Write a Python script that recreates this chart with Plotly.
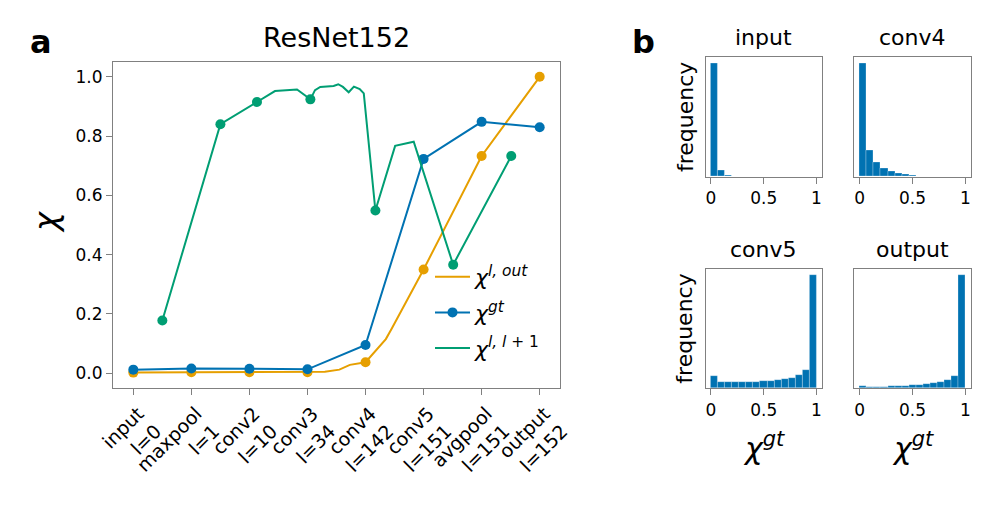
import numpy as np
import plotly.graph_objects as go


class Colors:
    ORANGE = '#E69F00'
    BLUE = '#0072B2'
    GREEN = '#009E73'
    AXIS = '#808080'
    TEXT = '#000000'


W, H = 997, 515
PAGE_MARGIN = 8  # default body margin of the html page

# panel a: layer positions on the x axis (tick index)
tick_pos = [0, 1, 2, 3, 4, 5, 6, 7]
tick_labels = ['input<br>l=0', 'maxpool<br>l=1', 'conv2<br>l=10', 'conv3<br>l=34',
               'conv4<br>l=142', 'conv5<br>l=151', 'avgpool<br>l=151', 'output<br>l=152']

chi_out_x = [0, 1, 2, 3, 3.3, 3.55, 3.62, 3.73, 4, 4.2, 4.35, 4.45, 5, 6, 7]
chi_out_y = [0.002, 0.003, 0.003, 0.003, 0.005, 0.012, 0.019, 0.028, 0.037,
             0.08, 0.115, 0.15, 0.35, 0.733, 1.0]

chi_gt_y = [0.012, 0.016, 0.015, 0.013, 0.095, 0.723, 0.848, 0.830]

chi_next_x = [0.5, 1.5, 2.13, 2.44, 2.82, 3.05, 3.13, 3.22, 3.45, 3.53, 3.61, 3.71,
              3.80, 3.90, 3.97, 4.17, 4.51, 4.83, 5.51, 6.51]
chi_next_y = [0.178, 0.84, 0.915, 0.952, 0.957, 0.924, 0.955, 0.966, 0.969, 0.975,
              0.966, 0.948, 0.967, 0.959, 0.944, 0.549, 0.767, 0.781, 0.366, 0.733]
chi_next_marked = [0, 1, 2, 5, 15, 18, 19]

# panel b: normalised histogram heights, 15 bins on [0, 1]
hist_names = ['input', 'conv4', 'conv5', 'output']
hist_input = [1.0, 0.059, 0.008, 0.003, 0, 0, 0, 0, 0, 0, 0, 0, 0, 0, 0]
hist_conv4 = [1.0, 0.229, 0.124, 0.074, 0.047, 0.029, 0.021, 0.012, 0.007,
              0.004, 0.003, 0.003, 0.003, 0.003, 0.003]
hist_conv5 = [0.104, 0.053, 0.053, 0.052, 0.053, 0.055, 0.058, 0.062, 0.068,
              0.074, 0.08, 0.095, 0.118, 0.157, 1.0]
hist_output = [0.024, 0.015, 0.015, 0.015, 0.016, 0.018, 0.021, 0.027, 0.033,
               0.040, 0.047, 0.058, 0.075, 0.107, 1.0]

FIG_W = W - 2 * PAGE_MARGIN
FIG_H = H - 2 * PAGE_MARGIN


def px(x):
    return (x - PAGE_MARGIN) / FIG_W


def py(y):
    return 1 - (y - PAGE_MARGIN) / FIG_H


def note(text, x, y, size, **kw):
    return dict(text=text, x=px(x), y=py(y), xref='paper', yref='paper',
                xanchor=kw.pop('xanchor', 'center'), yanchor=kw.pop('yanchor', 'middle'),
                showarrow=False, font=dict(size=size, color=Colors.TEXT), **kw)


def main():
    figure = go.Figure()

    chi_out_marked = [i for i, x in enumerate(chi_out_x) if x in tick_pos]
    line_w = 2

    figure.add_trace(go.Scatter(
        x=chi_out_x, y=chi_out_y, mode='lines', name='<i>χ</i><sup><i>l, out</i></sup>',
        line=dict(width=line_w, color=Colors.ORANGE), legendgroup='out'))
    figure.add_trace(go.Scatter(
        x=[chi_out_x[i] for i in chi_out_marked], y=[chi_out_y[i] for i in chi_out_marked],
        mode='markers', marker=dict(size=10, color=Colors.ORANGE), showlegend=False))
    figure.add_trace(go.Scatter(
        x=tick_pos, y=chi_gt_y, mode='lines+markers', name='<i>χ</i><sup><i>gt</i></sup>',
        line=dict(width=line_w, color=Colors.BLUE), marker=dict(size=10, color=Colors.BLUE),
        legendgroup='gt'))
    figure.add_trace(go.Scatter(
        x=chi_next_x, y=chi_next_y, mode='lines', name='<i>χ</i><sup><i>l, l</i> + 1</sup>',
        line=dict(width=line_w, color=Colors.GREEN), legendgroup='next'))
    figure.add_trace(go.Scatter(
        x=[chi_next_x[i] for i in chi_next_marked], y=[chi_next_y[i] for i in chi_next_marked],
        mode='markers', marker=dict(size=10, color=Colors.GREEN), showlegend=False))

    edges = np.linspace(0, 1, len(hist_conv4) + 1)
    centers = (edges[:-1] + edges[1:]) / 2
    for k, heights in enumerate([hist_input, hist_conv4, hist_conv5, hist_output]):
        figure.add_trace(go.Bar(
            x=centers, y=heights, width=edges[1] - edges[0],
            marker=dict(color=Colors.BLUE, line=dict(color='rgba(255,255,255,0.45)', width=0.6)),
            showlegend=False, xaxis=f'x{k + 2}', yaxis=f'y{k + 2}'))

    tickfont = dict(size=17, color=Colors.TEXT)
    frame = dict(showline=True, linecolor=Colors.AXIS, linewidth=1.2, mirror=True,
                 showgrid=False, zeroline=False, ticks='outside', ticklen=6,
                 tickcolor=Colors.AXIS, tickwidth=1.2, tickfont=tickfont, automargin=False)

    layout_axes = {
        'xaxis': dict(frame, domain=[px(113), px(560)], range=[-0.35, 7.35],
                      tickvals=tick_pos, ticktext=tick_labels, tickangle=-45, anchor='y',
                      tickfont=dict(size=19, color=Colors.TEXT), ticklabelshift=5),
        'yaxis': dict(frame, domain=[py(388), py(62)], range=[-0.05, 1.05],
                      tickvals=[0, 0.2, 0.4, 0.6, 0.8, 1.0],
                      ticktext=['0.0', '0.2', '0.4', '0.6', '0.8', '1.0'], anchor='x'),
    }

    hist_boxes = [(705.7, 821.7, 57.3, 176.7), (854.3, 970.7, 57.3, 176.7),
                  (705.7, 821.7, 269.0, 388.3), (854.3, 970.7, 269.0, 388.3)]
    annotations = []
    for k, (x0, x1, y0, y1) in enumerate(hist_boxes):
        n = k + 2
        layout_axes[f'xaxis{n}'] = dict(frame, domain=[px(x0), px(x1)], range=[-0.05, 1.05],
                                        tickvals=[0, 0.5, 1], ticktext=['0', '0.5', '1'],
                                        anchor=f'y{n}')
        layout_axes[f'yaxis{n}'] = dict(frame, domain=[py(y1), py(y0)], range=[0, 1.05],
                                        ticks='', showticklabels=False, anchor=f'x{n}')
        annotations.append(note(hist_names[k], (x0 + x1) / 2, y0 - 5, 22, yanchor='bottom'))
        if k % 2 == 0:
            annotations.append(note('frequency', 685, (y0 + y1) / 2, 22, textangle=-90))
        if k >= 2:
            annotations.append(note('<i>χ</i><sup><i>gt</i></sup>', (x0 + x1) / 2, 446, 30))

    annotations += [
        note('ResNet152', 336.5, 38, 27),
        note('<i>χ</i>', 46, 222, 32, textangle=-90),
        note('<b>a</b>', 41, 42, 32),
        note('<b>b</b>', 643, 42, 32),
    ]

    figure.update_layout(
        width=FIG_W, height=FIG_H,
        margin=dict(l=0, r=0, t=0, b=0),
        paper_bgcolor='white',
        plot_bgcolor='white',
        font=dict(family='DejaVu Sans', color=Colors.TEXT),
        showlegend=True,
        legend=dict(x=px(430), y=py(256), xanchor='left', yanchor='top',
                    bgcolor='rgba(0,0,0,0)', font=dict(size=22),
                    tracegroupgap=4, itemwidth=35),
        bargap=0,
        annotations=annotations,
        **layout_axes
    )

    figure.write_html('out.html')


if __name__ == '__main__':
    main()
